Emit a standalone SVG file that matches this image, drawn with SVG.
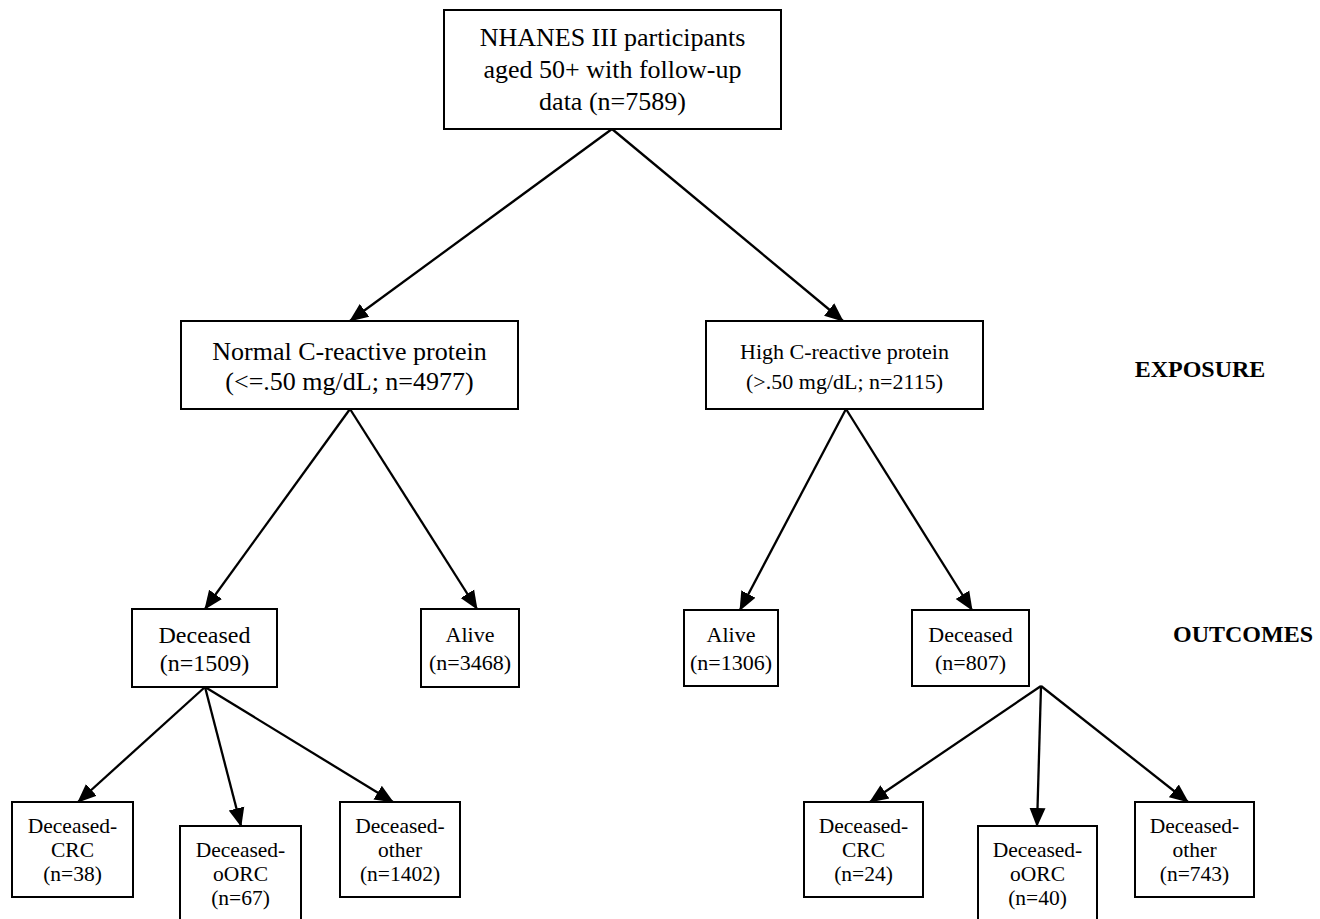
<svg xmlns="http://www.w3.org/2000/svg" width="1320" height="919" viewBox="0 0 1320 919">
<style>
rect.box{fill:#fff;stroke:#000;stroke-width:2}
text{font-family:"Liberation Serif","Times New Roman",serif;fill:#000;text-anchor:middle}
.t1{font-size:26px}
.t2{font-size:22px}
.t4{font-size:24px}
.t3{font-size:21.5px}
.lab{font-size:24px;font-weight:bold}
.edge{stroke:#000;stroke-width:2.3;fill:none;marker-end:url(#ah)}
</style>
<defs>
<marker id="ah" markerUnits="userSpaceOnUse" markerWidth="20" markerHeight="18" refX="18" refY="8" orient="auto" viewBox="0 0 20 16">
<path d="M0,0 L19,8 L0,16 z" fill="#000"/>
</marker>
</defs>
<rect width="1320" height="919" fill="#fff"/>
<g id="connectors">
<line class="edge" x1="612" y1="129" x2="350" y2="321"/>
<line class="edge" x1="612" y1="129" x2="843" y2="321"/>
<line class="edge" x1="350" y1="409" x2="205" y2="609"/>
<line class="edge" x1="350" y1="409" x2="477" y2="609"/>
<line class="edge" x1="846" y1="409" x2="740" y2="610"/>
<line class="edge" x1="846" y1="409" x2="972" y2="610"/>
<line class="edge" x1="205" y1="687" x2="78" y2="802"/>
<line class="edge" x1="205" y1="687" x2="241" y2="826"/>
<line class="edge" x1="205" y1="687" x2="393" y2="802"/>
<line class="edge" x1="1041" y1="686" x2="870" y2="802"/>
<line class="edge" x1="1041" y1="686" x2="1037" y2="826"/>
<line class="edge" x1="1041" y1="686" x2="1188" y2="802"/>
</g>
<g id="n-root">
<rect class="box" x="444" y="10" width="337" height="119"/>
<text class="t1" x="612.5" y="46">NHANES III participants</text>
<text class="t1" x="612.5" y="78">aged 50+ with follow-up</text>
<text class="t1" x="612.5" y="110">data (n=7589)</text>
</g>
<g id="n-normal">
<rect class="box" x="181" y="321" width="337" height="88"/>
<text class="t1" x="349.5" y="360">Normal C-reactive protein</text>
<text class="t1" x="349.5" y="390">(&lt;=.50 mg/dL; n=4977)</text>
</g>
<g id="n-high">
<rect class="box" x="706" y="321" width="277" height="88"/>
<text class="t2" x="844.5" y="359">High C-reactive protein</text>
<text class="t2" x="844.5" y="389">(&gt;.50 mg/dL; n=2115)</text>
</g>
<g id="l-exposure"><text class="lab" x="1200" y="377">EXPOSURE</text></g>
<g id="l-outcomes"><text class="lab" x="1243" y="642">OUTCOMES</text></g>
<g id="n-dec-l">
<rect class="box" x="132" y="609" width="145" height="78"/>
<text class="t4" x="204.5" y="643">Deceased</text>
<text class="t4" x="204.5" y="671">(n=1509)</text>
</g>
<g id="n-alive-l">
<rect class="box" x="421" y="609" width="98" height="78"/>
<text class="t2" x="470" y="642">Alive</text>
<text class="t2" x="470" y="670">(n=3468)</text>
</g>
<g id="n-alive-r">
<rect class="box" x="684" y="610" width="94" height="76"/>
<text class="t2" x="731" y="642">Alive</text>
<text class="t2" x="731" y="670">(n=1306)</text>
</g>
<g id="n-dec-r">
<rect class="box" x="912" y="610" width="117" height="76"/>
<text class="t2" x="970.5" y="642">Deceased</text>
<text class="t2" x="970.5" y="670">(n=807)</text>
</g>
<g id="n-crc-l">
<rect class="box" x="12" y="802" width="121" height="95"/>
<text class="t3" x="72.5" y="833">Deceased-</text>
<text class="t3" x="72.5" y="857">CRC</text>
<text class="t3" x="72.5" y="881">(n=38)</text>
</g>
<g id="n-oorc-l">
<rect class="box" x="180" y="826" width="121" height="100"/>
<text class="t3" x="240.5" y="857">Deceased-</text>
<text class="t3" x="240.5" y="881">oORC</text>
<text class="t3" x="240.5" y="905">(n=67)</text>
</g>
<g id="n-other-l">
<rect class="box" x="340" y="802" width="120" height="95"/>
<text class="t3" x="400" y="833">Deceased-</text>
<text class="t3" x="400" y="857">other</text>
<text class="t3" x="400" y="881">(n=1402)</text>
</g>
<g id="n-crc-r">
<rect class="box" x="804" y="802" width="119" height="95"/>
<text class="t3" x="863.5" y="833">Deceased-</text>
<text class="t3" x="863.5" y="857">CRC</text>
<text class="t3" x="863.5" y="881">(n=24)</text>
</g>
<g id="n-oorc-r">
<rect class="box" x="978" y="826" width="119" height="100"/>
<text class="t3" x="1037.5" y="857">Deceased-</text>
<text class="t3" x="1037.5" y="881">oORC</text>
<text class="t3" x="1037.5" y="905">(n=40)</text>
</g>
<g id="n-other-r">
<rect class="box" x="1135" y="802" width="119" height="95"/>
<text class="t3" x="1194.5" y="833">Deceased-</text>
<text class="t3" x="1194.5" y="857">other</text>
<text class="t3" x="1194.5" y="881">(n=743)</text>
</g>
</svg>
